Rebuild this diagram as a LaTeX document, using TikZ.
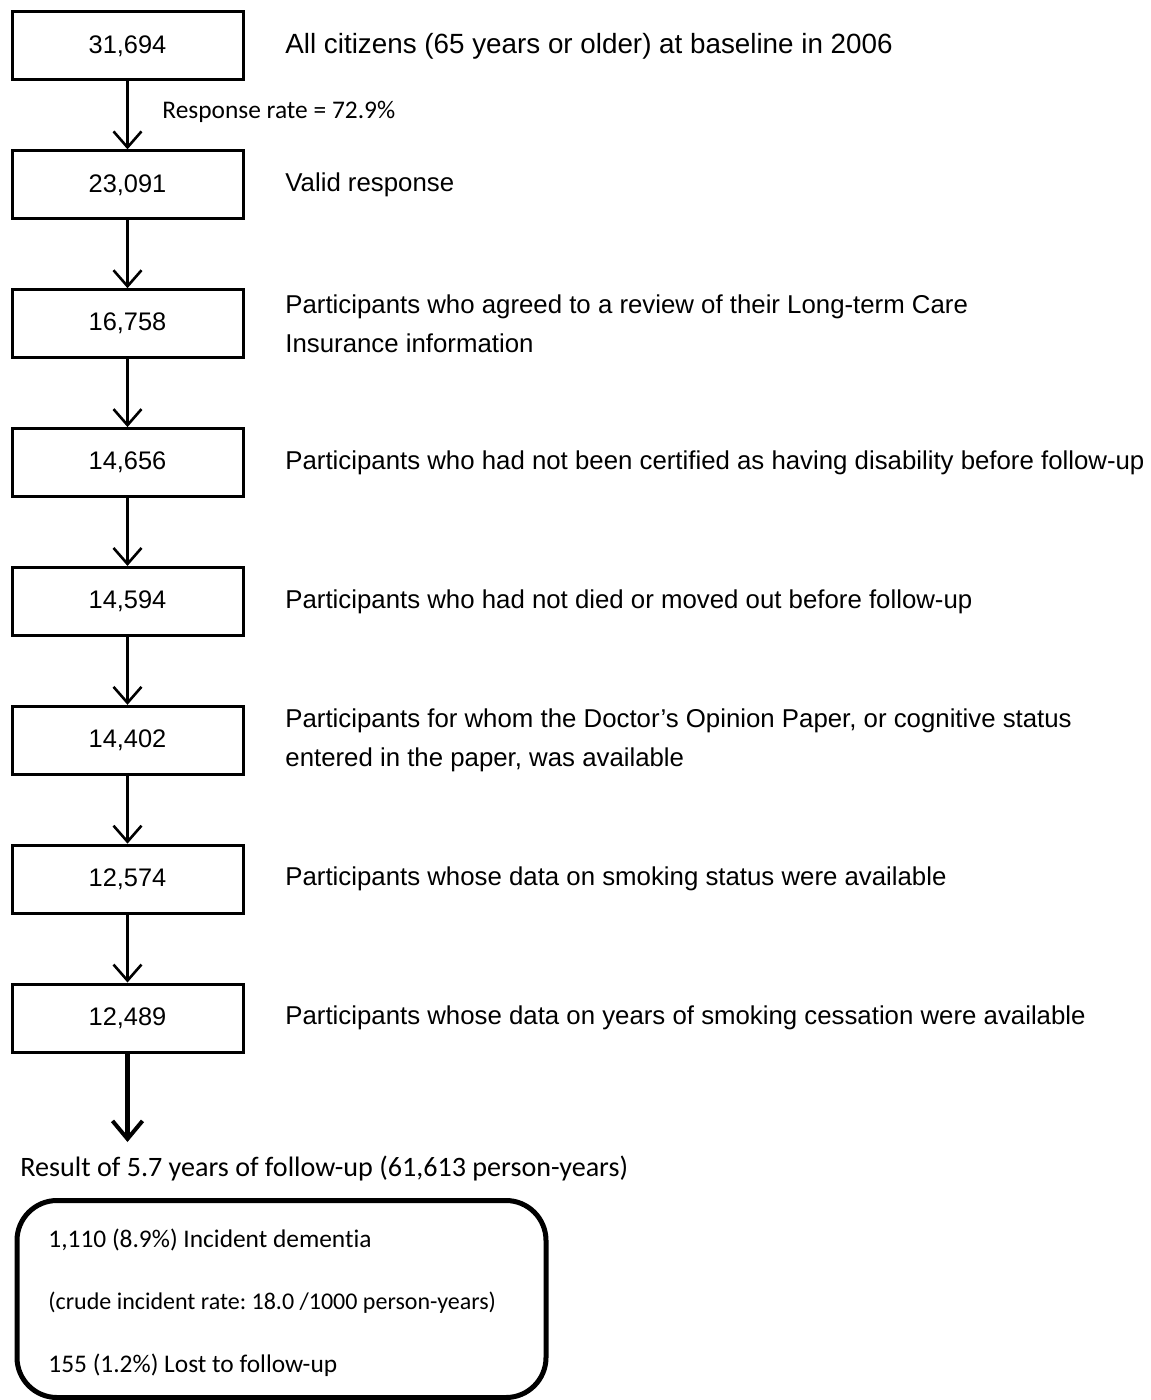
\documentclass[tikz,border=0pt]{standalone}
\usepackage{fontspec}
\setmainfont{Liberation Sans}
\newfontfamily\calibri[Ligatures=NoCommon]{Carlito}
\frenchspacing
\usetikzlibrary{arrows.meta}
\begin{document}
\begin{tikzpicture}[x=0.5pt,y=-0.5pt,
    countbox/.style={draw,line width=1.5pt,minimum width=115.5pt,minimum height=34pt,
        inner sep=0pt,font=\fontsize{12.7}{15}\selectfont},
    steptext/.style={anchor=west,align=left,inner sep=0pt,
        font=\fontsize{12.9}{19.5}\selectfont},
    flow/.style={line width=1.5pt,-{Straight Barb[length=8pt,width=14pt,line width=1.3pt]}},
    note/.style={anchor=west,inner sep=0pt,font=\calibri\fontsize{12.7}{15}\selectfont}]
    \useasboundingbox (0,0) rectangle (1150,1400);
    \foreach \n/\lbl [count=\i] in {
        {31,694}/{\fontsize{13.9}{19.5}\selectfont All citizens (65 years or older) at baseline in 2006},
        {23,091}/{Valid response},
        {16,758}/{Participants who agreed to a review of their Long-term Care\\Insurance information},
        {14,656}/{Participants who had not been certified as having disability before follow-up},
        {14,594}/{Participants who had not died or moved out before follow-up},
        {14,402}/{Participants for whom the Doctor’s Opinion Paper, or cognitive status\\entered in the paper, was available},
        {12,574}/{Participants whose data on smoking status were available},
        {12,489}/{Participants whose data on years of smoking cessation were available}}
    {
        \node[countbox] (b\i) at (127.5,{46+138.86*(\i-1)}) {\n};
        \node[steptext] (t\i) at (285,{46+138.86*(\i-1)}) {\lbl};
    }
    \foreach \i [evaluate=\i as \j using int(\i+1)] in {1,...,7}
        \draw[flow] (b\i.south) -- (b\j.north);
    \node[note] (rate) at (162,112) {Response rate = 72.9\%};
    % follow-up result
    \coordinate (resend) at (127.5,1142);
    \draw[line width=2.5pt,-{Straight Barb[length=9pt,width=15pt,line width=2pt]}] (b8.south) -- (resend);
    \node[note,font=\calibri\fontsize{14.05}{15}\selectfont] (result) at (20,1168)
        {Result of 5.7 years of follow-up (61,613 person-years)};
    \node[draw,line width=2.5pt,rounded corners=20pt,minimum width=264.5pt,minimum height=98.5pt]
        (outcome) at (281.5,1299) {};
    \node[note,align=left,font=\calibri\fontsize{12.7}{31.25}\selectfont] (outtext) at (48,1302.5)
        {1,110 (8.9\%) Incident dementia\\{\fontsize{12}{31.25}\selectfont(crude incident rate: 18.0 /1000 person-years)}\\155 (1.2\%) Lost to follow-up};
\end{tikzpicture}
\end{document}
